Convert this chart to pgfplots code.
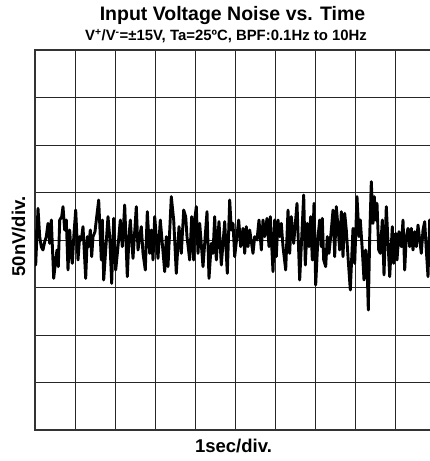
\documentclass[border=0pt]{standalone}
\usepackage{fontspec}
\setmainfont{Liberation Sans}
\usepackage{pgfplots}
\pgfplotsset{compat=1.18}
\begin{document}
\begin{tikzpicture}[x=1pt,y=1pt]
\begin{axis}[at={(0,0)}, anchor=south west, scale only axis,
  width=400pt, height=380pt,
  xmin=35, xmax=435, ymin=-360, ymax=780, y dir=reverse,
  xtick={35,75,...,435}, ytick={-360,-217.5,...,780},
  xticklabels={}, yticklabels={},
  grid=major, major grid style={black!85, line width=0.9pt},
  tick style={draw=none},
  axis line style={black!80, line width=1.6pt}]
\addplot[black, line width=2.9pt, line join=round] table {
x y
35 180
35.7 285
38 115
39.7 200
41.3 230
43 240
44.7 215
46.3 200
48 160
49.7 220
51.3 150
53.7 325
55.7 270
57 240
58.3 290
59.7 150
61.7 140
63 110
64.7 180
66.3 150
68 300
69.7 180
71 250
72.3 280
74 190
75.7 120
78 270
79.7 200
81.3 210
83 170
85.7 325
87.3 200
88.7 230
90.3 180
91.7 260
93 200
95 185
96.7 140
98.7 90
101.3 270
102.3 150
103.7 330
105.7 240
108 140
109.7 200
111.7 340
113.7 145
115.7 300
118 230
120.3 150
122.3 230
124.7 105
127.3 320
129 200
130.3 150
133 265
136.3 110
138 240
139.7 200
141.3 170
143 250
145.3 300
147.3 125
149.7 250
151.3 180
153 270
154.7 140
156.3 200
158 265
160.3 150
164.7 305
166.3 200
168 290
171.3 80
173.7 150
176.3 310
179 170
181.3 250
183.7 120
185.7 140
187 200
189.7 270
191.7 140
193.7 270
194.7 150
196.3 110
198 250
199.7 160
203 290
207 125
209 325
211.3 220
213 250
214.7 140
216.3 270
219 155
221.3 285
224.7 155
227.3 310
229.7 90
231.3 180
233 160
234.7 260
238.7 150
240.7 230
243 175
244.7 250
246.3 170
248 230
249.7 180
253 250
254.7 200
257 210
259 150
261.3 240
263 150
264.7 200
267 145
269 230
270.3 140
273 305
274.7 150
276.3 260
278 150
279.7 200
281.3 160
283 230
285.7 300
288 120
289.7 250
291.3 140
293.7 220
297 100
299.7 330
303.7 75
305.3 285
307.3 160
309 230
310.7 140
312.3 270
314 100
315.7 345
318 200
319.7 150
321.3 230
322.3 145
323.7 270
325.7 290
327.3 200
329 250
331.3 180
333 120
334.7 260
336.3 110
338 170
339.7 240
341.3 125
343 260
344.7 130
346.3 180
348 260
350.3 360
353 175
354.7 280
357 80
359 200
360.3 150
362.3 240
364 330
365.7 240
367 280
368.3 420
369.7 200
371.3 35
373 160
374.3 80
375.7 150
377 100
378.7 240
380.3 250
382.3 150
384 315
386.3 110
389.7 320
392.3 170
393.7 280
395.7 190
397 270
399 185
401.3 230
403 150
404.7 300
406.3 200
408 175
409.7 230
411.3 175
413 240
414.7 185
416.3 230
418 165
419.7 210
421.3 250
423 180
424.7 155
426.3 240
428 320
429.7 150
436 200
};
\end{axis}
\node[anchor=base, inner sep=0pt, font=\fontsize{19.5}{22}\selectfont\bfseries] at (197.5,409.5) {Input Voltage Noise vs. Time};
\node[anchor=base, inner sep=0pt, font=\fontsize{14.9}{17}\selectfont\bfseries] at (191,389.5) {V\textsuperscript{+}/V\textsuperscript{-}=±15V, Ta=25ºC, BPF:0.1Hz to 10Hz};
\node[anchor=base, inner sep=0pt, font=\fontsize{18.5}{21}\selectfont\bfseries] at (198.5,-22) {1sec/div.};
\node[anchor=base, rotate=90, inner sep=0pt, font=\fontsize{18.5}{21}\selectfont\bfseries] at (-10,193.5) {50nV/div.};
\pgfresetboundingbox
\path[use as bounding box] (-35,-31) rectangle (395,430);
\end{tikzpicture}
\end{document}
